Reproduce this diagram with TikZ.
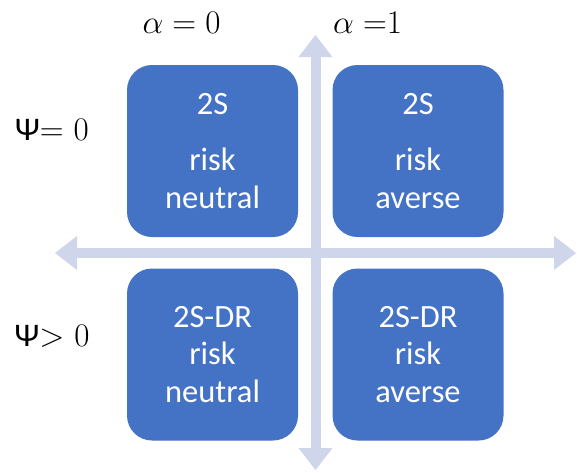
\documentclass[tikz,border=0pt]{standalone}
\usepackage{fix-cm}
\usepackage{fontspec}
\newfontfamily\carlito{Carlito}
\usetikzlibrary{arrows.meta}
\definecolor{boxblue}{HTML}{4472C4}
\definecolor{axiscol}{RGB}{207,213,234}
\begin{document}
\begin{tikzpicture}[x=1pt,y=-1pt,
  box/.style={fill=boxblue, rounded corners=25pt, minimum width=171pt,
    minimum height=172pt, text=white, align=center, inner sep=0pt,
    font=\carlito\fontsize{32.5}{37.5}\selectfont},
  axistip/.tip={Triangle[length=22pt,width=34pt,line width=0pt]},
  axis/.style={draw=axiscol, fill=axiscol, line width=10pt, axistip-axistip},
  lab/.style={font=\fontsize{33}{38}\selectfont, anchor=base, inner sep=0pt}]
\useasboundingbox (0,0) rectangle (577,472);
% axes
\coordinate (hl) at (55,253);
\coordinate (hr) at (576,253);
\coordinate (vt) at (315.5,35);
\coordinate (vb) at (315.5,470);
\draw[axis] (hl) -- (hr);
\draw[axis] (vt) -- (vb);
% boxes
\node[box] (tl) at (212.5,151) {2S\\[19pt]risk\\neutral};
\node[box] (tr) at (418,151) {2S\\[19pt]risk\\averse};
\node[box] (bl) at (212.5,354.5) {2S-DR\\risk\\neutral};
\node[box] (br) at (418,354.5) {2S-DR\\risk\\averse};
% labels
\node[lab] (a0) at (181.5,33) {\(\alpha = 0\)};
\node[lab] (a1) at (367.5,33) {\(\alpha =\)\(1\)};
\node[lab] (p0) at (52,140) {{\carlito Ψ}\(=\) \(0\)};
\node[lab] (p1) at (52,346) {{\carlito Ψ}\(>\) \(0\)};
\end{tikzpicture}
\end{document}
